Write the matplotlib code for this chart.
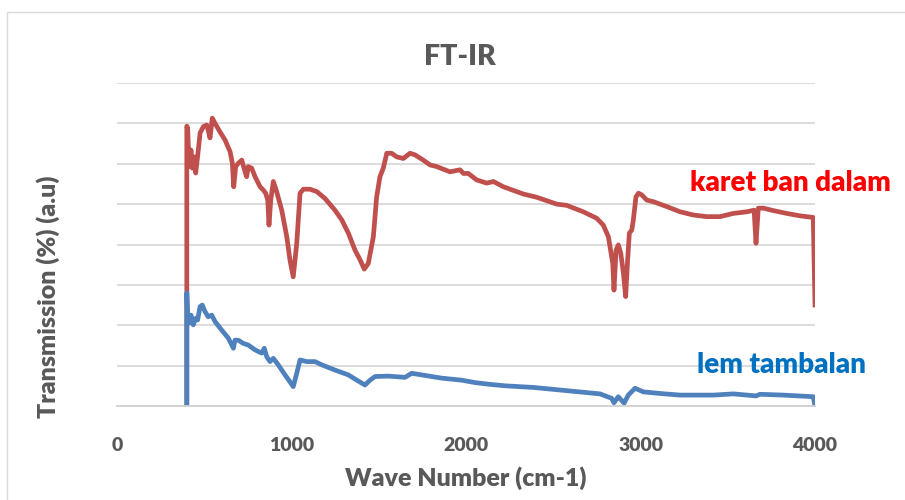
import matplotlib
matplotlib.use("Agg")
import matplotlib.pyplot as plt
import matplotlib.patches as mpatches

# karet ban dalam (red)
karet_wn = [400, 400, 405, 413, 424, 432, 443, 451, 466, 476, 495, 514, 522, 533, 546, 562,
            590, 619, 648, 661, 669, 680, 695, 715, 728, 743, 752, 772, 791, 820, 838, 852,
            864, 871, 881, 896, 915, 944, 973, 991, 1010, 1030, 1049, 1068, 1106, 1145, 1192,
            1249, 1288, 1326, 1364, 1393, 1417, 1440, 1469, 1488, 1507, 1526, 1546, 1574, 1603,
            1641, 1679, 1708, 1755, 1794, 1832, 1908, 1966, 1985, 2013, 2061, 2119, 2157, 2214,
            2329, 2405, 2520, 2577, 2672, 2749, 2787, 2816, 2841, 2848, 2860, 2873, 2887, 2902,
            2915, 2925, 2936, 2950, 2959, 2974, 2988, 3007, 3036, 3074, 3150, 3227, 3303, 3380,
            3456, 3532, 3609, 3651, 3662, 3675, 3704, 3761, 3838, 3914, 3990, 4000]
karet_t = [0.0, 6.93, 6.88, 5.93, 6.34, 5.89, 6.17, 5.77, 6.34, 6.76, 6.92, 6.96, 6.84, 6.64, 7.13, 7.00,
           6.79, 6.59, 6.30, 6.02, 5.43, 5.93, 6.01, 6.09, 5.89, 5.68, 5.93, 5.89, 5.68, 5.43, 5.35, 5.27,
           5.10, 4.48, 5.10, 5.56, 5.31, 4.85, 4.19, 3.62, 3.20, 4.03, 5.27, 5.37, 5.37, 5.31, 5.14,
           4.85, 4.61, 4.28, 3.86, 3.62, 3.39, 3.53, 4.19, 5.18, 5.68, 5.89, 6.26, 6.26, 6.17,
           6.13, 6.26, 6.22, 6.09, 5.97, 5.93, 5.80, 5.85, 5.76, 5.76, 5.60, 5.52, 5.56, 5.43,
           5.25, 5.17, 5.00, 4.97, 4.81, 4.65, 4.48, 4.19, 3.53, 2.87, 3.86, 3.99, 3.78, 3.29,
           2.71, 3.53, 4.28, 4.36, 4.61, 5.18, 5.27, 5.23, 5.10, 5.06, 4.94, 4.81, 4.73, 4.69,
           4.69, 4.77, 4.81, 4.85, 4.03, 4.90, 4.90, 4.84, 4.77, 4.71, 4.67, 2.50]

# lem tambalan (blue)
lem_wn = [400, 400, 403, 405, 413, 424, 437, 451, 462, 476, 489, 504, 523, 543, 562, 600, 638,
          667, 676, 695, 724, 752, 791, 829, 844, 858, 877, 896, 924, 963, 991, 1010, 1030,
          1049, 1087, 1135, 1173, 1249, 1326, 1374, 1421, 1450, 1479, 1555, 1651, 1689, 1746,
          1861, 1975, 2052, 2128, 2224, 2386, 2577, 2768, 2835, 2848, 2873, 2906, 2930, 2969,
          3016, 3112, 3227, 3417, 3532, 3662, 3685, 3819, 3990, 4000]
lem_t = [0.0, 2.80, 2.45, 2.30, 2.05, 2.25, 2.01, 2.17, 2.13, 2.46, 2.50, 2.34, 2.21, 2.25, 2.09, 1.88, 1.68,
         1.43, 1.63, 1.63, 1.55, 1.51, 1.39, 1.31, 1.43, 1.22, 1.10, 1.18, 1.02, 0.77, 0.60, 0.48, 0.81,
         1.14, 1.10, 1.10, 1.02, 0.89, 0.77, 0.64, 0.52, 0.64, 0.73, 0.74, 0.71, 0.81, 0.77,
         0.69, 0.64, 0.58, 0.54, 0.50, 0.46, 0.38, 0.30, 0.19, 0.08, 0.23, 0.07, 0.27, 0.44,
         0.35, 0.31, 0.27, 0.27, 0.30, 0.25, 0.29, 0.27, 0.23, 0.0]

x_ticks = [0, 1000, 2000, 3000, 4000]

GRAY = '#595959'
FONT = 'Lato'

fig = plt.figure(figsize=(9.05, 5.0), dpi=100)
fig.patches.append(mpatches.Rectangle((7 / 905, -0.1), 1.0, 1 - 12 / 500 + 0.1,
                                      transform=fig.transFigure, facecolor='none',
                                      edgecolor='#D9D9D9', linewidth=1.0))

ax = fig.add_axes([117 / 905, 1 - 406 / 500, (815 - 117) / 905, (406 - 83) / 500])
ax.set_xlim(0, 4000)
ax.set_ylim(0, 8)
ax.set_yticks(range(0, 9))
ax.set_yticklabels([])
ax.set_xticks(x_ticks)
ax.set_xticklabels([str(t) for t in x_ticks], fontsize=14, fontweight='heavy',
                   color=GRAY, family=FONT)
ax.tick_params(axis='both', length=0, pad=22)
ax.grid(axis='y', color='#D9D9D9', linewidth=1.3)
ax.set_axisbelow(True)
for side in ['top', 'right', 'left']:
    ax.spines[side].set_visible(False)
ax.spines['bottom'].set_color('#D0D0D0')
ax.spines['bottom'].set_linewidth(1.3)

ax.plot(karet_wn, karet_t, color='#C0504D', linewidth=3.4, solid_joinstyle='round')
ax.plot(lem_wn, lem_t, color='#4F81BD', linewidth=3.4, solid_joinstyle='round')

fig.text(460 / 905, 1 - 57 / 500, 'FT-IR', ha='center', va='center', fontsize=20.5,
         fontweight='heavy', color=GRAY, family=FONT)
fig.text(466 / 905, 1 - 478 / 500, 'Wave Number (cm-1)', ha='center', va='center',
         fontsize=18, fontweight='heavy', color=GRAY, family=FONT)
fig.text(48 / 905, 1 - 297 / 500, 'Transmission (%) (a.u)', ha='center', va='center',
         rotation=90, fontsize=18, fontweight='heavy', color=GRAY, family=FONT)
fig.text(790 / 905, 1 - 183 / 500, 'karet ban dalam', ha='center', va='center',
         fontsize=20, fontweight='heavy', color='#FF0000', family=FONT)
fig.text(781 / 905, 1 - 365 / 500, 'lem tambalan', ha='center', va='center',
         fontsize=20, fontweight='heavy', color='#0070C0', family=FONT)

fig.savefig('out.png', dpi=100)
